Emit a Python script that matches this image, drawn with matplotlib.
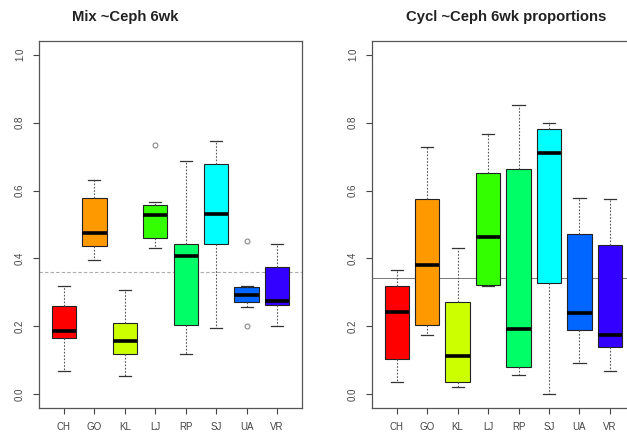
import numpy as np
import matplotlib
matplotlib.use("Agg")
import matplotlib.pyplot as plt

plt.rcParams['font.family'] = ['Liberation Sans', 'DejaVu Sans']

sites = ["CH", "GO", "KL", "LJ", "RP", "SJ", "UA", "VR"]
colors = ["#FF0000", "#FF9900", "#CCFF00", "#33FF00", "#00FF66", "#00FFFF", "#0066FF", "#3300FF"]

# Mix ~Ceph 6wk: whisker low, Q1, median, Q3, whisker high
mix_lo = [0.07, 0.396, 0.053, 0.43, 0.119, 0.196, 0.256, 0.202]
mix_q1 = [0.165, 0.437, 0.119, 0.461, 0.204, 0.442, 0.271, 0.263]
mix_med = [0.188, 0.474, 0.158, 0.527, 0.408, 0.53, 0.292, 0.276]
mix_q3 = [0.261, 0.579, 0.211, 0.557, 0.442, 0.678, 0.315, 0.375]
mix_hi = [0.32, 0.632, 0.308, 0.567, 0.686, 0.745, 0.32, 0.444]
mix_out = [[], [], [], [0.733], [], [], [0.452, 0.20], []]
mix_ref = 0.361

# Cycl ~Ceph 6wk proportions
cyc_lo = [0.036, 0.176, 0.023, 0.32, 0.056, 0.0, 0.092, 0.07]
cyc_q1 = [0.105, 0.205, 0.036, 0.323, 0.082, 0.329, 0.19, 0.139]
cyc_med = [0.243, 0.381, 0.114, 0.464, 0.193, 0.709, 0.24, 0.175]
cyc_q3 = [0.32, 0.574, 0.273, 0.652, 0.662, 0.782, 0.473, 0.439]
cyc_hi = [0.367, 0.728, 0.432, 0.767, 0.852, 0.80, 0.579, 0.574]
cyc_out = [[] for _ in sites]
cyc_ref = 0.344

yticks = [0.0, 0.2, 0.4, 0.6, 0.8, 1.0]


def draw_panel(ax, lo, q1, med, q3, hi, out, ref, ref_style):
    stats = []
    for i in range(len(sites)):
        stats.append(dict(whislo=lo[i], q1=q1[i], med=med[i], q3=q3[i],
                          whishi=hi[i], fliers=out[i], label=sites[i]))
    bp = ax.bxp(stats, positions=range(1, len(sites) + 1), widths=0.8,
                patch_artist=True,
                boxprops=dict(edgecolor="#222222", linewidth=0.8),
                medianprops=dict(color="black", linewidth=2.6, solid_capstyle="butt"),
                whiskerprops=dict(color="#555555", linewidth=0.8, linestyle=(0, (1.5, 1.5))),
                capprops=dict(color="#333333", linewidth=0.9),
                capwidths=0.4,
                flierprops=dict(marker="o", markersize=3.5, markerfacecolor="none",
                                markeredgecolor="#888888", markeredgewidth=0.8))
    for patch, c in zip(bp["boxes"], colors):
        patch.set_facecolor(c)
    ax.axhline(ref, **ref_style, zorder=0)
    ax.set_xlim(0.18, 8.82)
    ax.set_ylim(-0.04, 1.04)
    ax.set_yticks(yticks)
    ax.set_yticklabels(["%.1f" % v for v in yticks], rotation=90, va="center")
    ax.tick_params(axis="both", labelsize=7, colors="#444444", length=4, width=0.8)
    ax.tick_params(axis="y", pad=6)
    ax.tick_params(axis="x", pad=6)
    for s in ax.spines.values():
        s.set_color("#555555")
        s.set_linewidth(0.9)


fig = plt.figure(figsize=(6.27, 4.33), dpi=100)
ax1 = fig.add_axes([0.0622, 0.0577, 0.4195, 0.8476])
ax2 = fig.add_axes([0.593, 0.0577, 0.4195, 0.8476])

draw_panel(ax1, mix_lo, mix_q1, mix_med, mix_q3, mix_hi, mix_out, mix_ref,
           dict(color="#aaaaaa", linewidth=0.8, linestyle=(0, (3, 2))))
draw_panel(ax2, cyc_lo, cyc_q1, cyc_med, cyc_q3, cyc_hi, cyc_out, cyc_ref,
           dict(color="#777777", linewidth=0.7))

fig.text(72 / 627, 1 - 17 / 433, "Mix ~Ceph 6wk", fontsize=10.7, fontweight="bold",
         ha="left", va="center", color="#222222")
fig.text(506 / 627, 1 - 17 / 433, "Cycl ~Ceph 6wk proportions", fontsize=10.7,
         fontweight="bold", ha="center", va="center", color="#222222")

fig.savefig("out.png", dpi=100)
